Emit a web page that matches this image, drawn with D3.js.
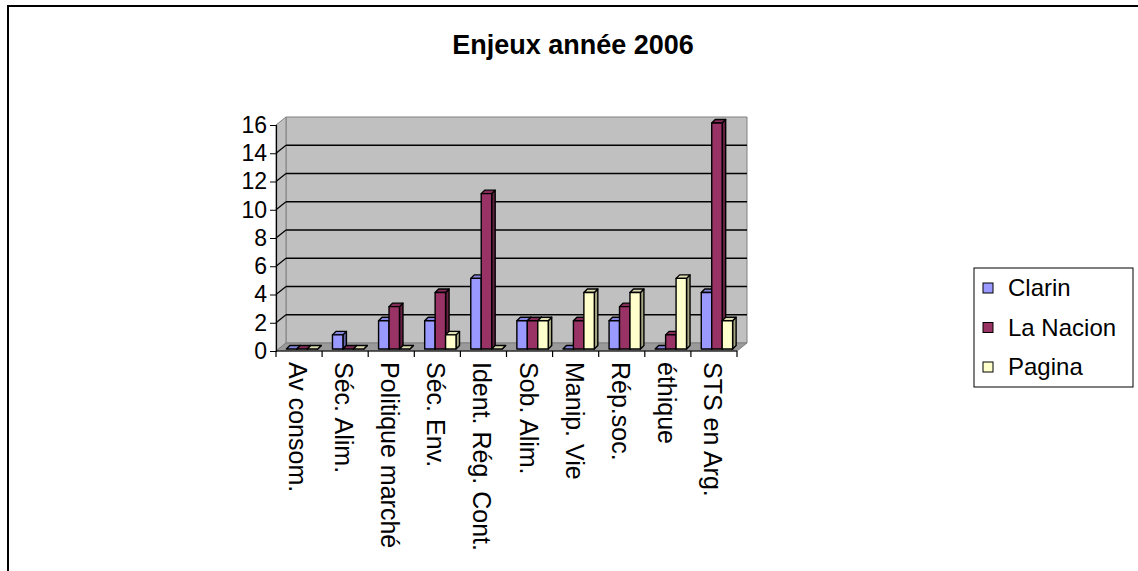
<!DOCTYPE html>
<html>
<head>
<meta charset="utf-8">
<script src="https://cdn.jsdelivr.net/npm/d3@7"></script>
<style>
  body { margin: 0; background: #fff; }
  text { font-family: "Liberation Sans", Arial, sans-serif; }
</style>
</head>
<body>
<div id="chart"></div>
<script>
// data
var categories = ["Av consom.", "Séc. Alim.", "Politique marché", "Séc. Env.", "Ident. Rég. Cont.",
                  "Sob. Alim.", "Manip. Vie", "Rép.soc.", "éthique", "STS en Arg."];
var seriesNames = ["Clarin", "La Nacion", "Pagina"];
var clarin = [0, 1, 2, 2, 5, 2, 0, 2, 0, 4];
var nacion = [0, 0, 3, 4, 11, 2, 2, 3, 1, 16];
var pagina = [0, 0, 0, 1, 0, 2, 4, 4, 5, 2];
var yTicks = [0, 2, 4, 6, 8, 10, 12, 14, 16];
var colors = ["#9999ff", "#993366", "#ffffcc"];

var width = 1138, height = 571;
var svg = d3.select("#chart").append("svg")
    .attr("width", width).attr("height", height);

// outer frame (runs off right and bottom like the picture)
svg.append("rect").attr("x", 8).attr("y", 6).attr("width", 1140).attr("height", 580)
    .attr("fill", "none").attr("stroke", "#000").attr("stroke-width", 2);

svg.append("text").attr("x", 573).attr("y", 54).attr("text-anchor", "middle")
    .attr("font-size", 27).attr("font-weight", "bold").text("Enjeux année 2006");

// plot frame, with fake 3d depth
var left = 276, right = 737;
var dx = 10, dy = -8;
var y = d3.scaleLinear().domain([0, 16]).range([351, 125]);
var x = d3.scaleBand().domain(categories).range([left, right]).paddingInner(0.32).paddingOuter(0.16);
var xs = d3.scaleBand().domain(seriesNames).range([0, x.bandwidth()]);

var pts = function(a) { return a.map(function(p) { return p.join(","); }).join(" "); };

// back wall
svg.append("polygon")
    .attr("points", pts([[left + dx, y(16) + dy], [right + dx, y(16) + dy], [right + dx, y(0) + dy], [left + dx, y(0) + dy]]))
    .attr("fill", "#c0c0c0").attr("stroke", "#808080");
// side wall
svg.append("polygon")
    .attr("points", pts([[left, y(16)], [left + dx, y(16) + dy], [left + dx, y(0) + dy], [left, y(0)]]))
    .attr("fill", "#c0c0c0").attr("stroke", "#808080");
// floor
svg.append("polygon")
    .attr("points", pts([[left, y(0)], [left + dx, y(0) + dy], [right + dx, y(0) + dy], [right, y(0)]]))
    .attr("fill", "#9a9a9a").attr("stroke", "#808080");

// gridlines
var grid = svg.append("g").attr("stroke", "#000").attr("stroke-width", 1.3);
yTicks.filter(function(t) { return t > 0 && t < 16; }).forEach(function(t) {
  grid.append("line").attr("x1", left + dx).attr("x2", right + dx)
      .attr("y1", y(t) + dy).attr("y2", y(t) + dy);
  grid.append("line").attr("x1", left).attr("x2", left + dx)
      .attr("y1", y(t)).attr("y2", y(t) + dy);
});

// bars
var series = [clarin, nacion, pagina];
var bx = 3, by = -2, bd = 3.5;
var bars = svg.append("g").attr("stroke", "#000").attr("stroke-width", 1.4).attr("stroke-linejoin", "round");
categories.forEach(function(c, i) {
  series.forEach(function(vals, s) {
    var x0 = x(c) + xs(seriesNames[s]) + bx, x1 = x0 + xs.bandwidth();
    var yb = y(0) + by, yt = y(vals[i]) + by;
    var col = d3.color(colors[s]);
    // side
    bars.append("polygon")
        .attr("points", pts([[x1, yt], [x1 + bd, yt - bd], [x1 + bd, yb - bd], [x1, yb]]))
        .attr("fill", col.darker(1.2));
    // top
    bars.append("polygon")
        .attr("points", pts([[x0, yt], [x0 + bd, yt - bd], [x1 + bd, yt - bd], [x1, yt]]))
        .attr("fill", col.darker(0.4));
    // front
    if (vals[i] > 0) {
      bars.append("rect").attr("x", x0).attr("y", yt)
          .attr("width", x1 - x0).attr("height", yb - yt).attr("fill", colors[s]);
    }
  });
});

// y axis
var yAxis = svg.append("g").attr("transform", "translate(" + left + ",0)")
    .call(d3.axisLeft(y).tickValues(yTicks).tickSize(6).tickPadding(3).tickFormat(d3.format("d")));
yAxis.select(".domain").attr("stroke", "#000").attr("stroke-width", 1.2);
yAxis.selectAll(".tick line").attr("stroke", "#000");
yAxis.selectAll("text").attr("font-size", 23).attr("fill", "#000")
    .style("font-family", "'Liberation Sans', Arial, sans-serif");

// x axis line with ticks at category boundaries
var xa = svg.append("g").attr("stroke", "#000").attr("stroke-width", 1.2);
xa.append("line").attr("x1", left).attr("x2", right).attr("y1", y(0)).attr("y2", y(0));
var step = x.step();
d3.range(categories.length + 1).forEach(function(k) {
  var tx = left + k * step;
  xa.append("line").attr("x1", tx).attr("x2", tx).attr("y1", y(0)).attr("y2", y(0) + 6);
});

svg.append("g").selectAll("text").data(categories).enter().append("text")
    .attr("transform", function(d) {
      return "translate(" + (x(d) + x.bandwidth() / 2 - 10) + "," + 362 + ") rotate(90)";
    })
    .attr("font-size", 25).text(function(d) { return d; });

// legend
svg.append("rect").attr("x", 974).attr("y", 268).attr("width", 159).attr("height", 119)
    .attr("fill", "#fff").attr("stroke", "#000");
var legend = svg.append("g").selectAll("g").data(seriesNames).enter().append("g")
    .attr("transform", function(d, i) { return "translate(983," + (288 + i * 39.5) + ")"; });
legend.append("rect").attr("x", 0).attr("y", -5).attr("width", 10).attr("height", 10)
    .attr("fill", function(d, i) { return colors[i]; }).attr("stroke", "#000");
legend.append("text").attr("x", 25).attr("y", 0).attr("dy", "0.35em")
    .attr("font-size", 24).text(function(d) { return d; });
</script>
</body>
</html>
